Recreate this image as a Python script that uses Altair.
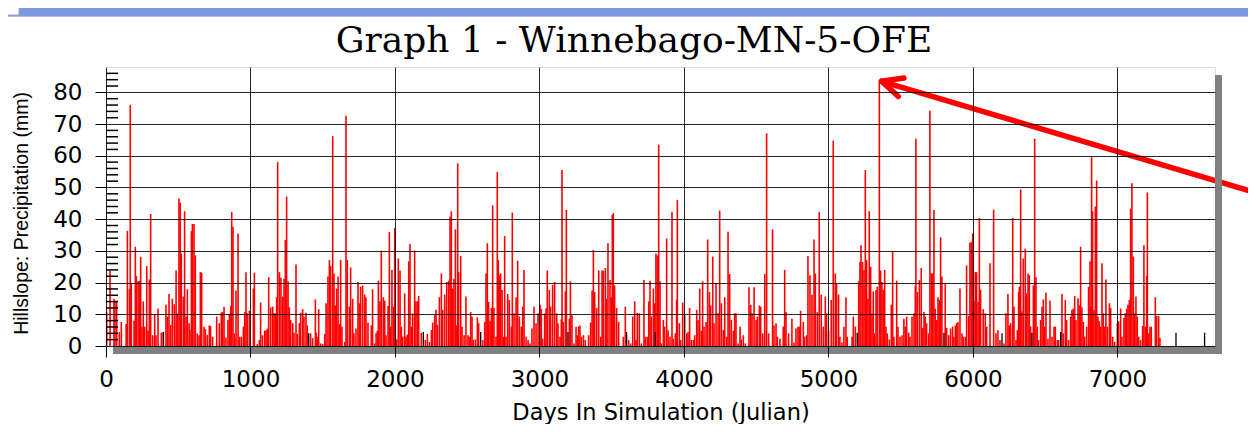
import altair as alt
import pandas as pd

# ---- data: (day, precipitation mm) ----
SEG_A = [(5,10.8),(28,23.8),(55,14.9),(62,14.3),(74,14.3),(92,4.4),(106,7.6),(139,6.9),(148,36.3),(162,17.9),
         (168,76.0),(175,19.6),(194,8.0),(203,31.3),(210,22.1),(222,20.4),(231,20.6),(240,28.1),(249,6.1),(258,14.1),
         (268,6.1),(282,25.2),(291,4.8),(300,21.0),(309,41.6),(323,3.4),(337,10.1),(346,3.4),(360,11.8),(383,4.2),
         (397,4.4),(415,13.0),(425,9.3),(436,16.4),(448,6.6),(459,14.9),(473,13.2),(485,23.8),(494,10.3),(505,46.5),
         (514,45.2),(521,29.2),(535,15.6),(544,42.5),(554,9.3),(563,17.9),(575,7.2),(581,5.0),(591,36.2),(598,38.5),
         (609,38.5),(618,28.6),(632,4.0),(644,3.4),(653,23.3),(662,23.1),(678,6.1),(688,5.3),(701,3.5),(715,6.5),
         (724,6.3),(738,2.9),(766,9.3),(784,7.2),(798,10.6),(807,10.7),(817,12.4),(830,2.7),(844,8.2),(854,10.1),
         (863,12.6),(870,42.3),(879,37.6),(890,4.0),(900,17.5),(914,35.5),(925,2.9),(937,2.9),(951,6.1),(960,10.7),
         (969,23.3),(978,10.3),(992,11.1),(1020,18.1),(1027,23.1),(1047,0.6),(1061,1.9),(1070,13.7),(1082,3.4),(1098,4.8),
         (1107,5.0),(1117,5.5),(1126,21.7),(1140,12.2),(1154,12.4),(1163,10.3),(1172,10.3),(1181,15.4),(1188,58.0),(1200,23.3),
         (1211,21.5),(1223,15.6),(1232,21.2),(1241,33.4),(1250,47.1),(1260,20.4),(1269,12.2),(1278,8.2),(1292,7.2),(1301,4.2),
         (1315,25.7),(1324,3.8),(1338,7.2),(1347,10.5),(1361,11.6),(1370,9.3),(1384,10.5),(1393,6.5),(1416,4.0),(1430,2.5),
         (1449,14.7),(1454,4.2),(1463,2.9),(1472,11.6),(1486,0.8),(1500,0.6),(1514,3.8),(1523,13.5)]

SEG_B = [(1536,21.9),(1546,27.1),(1555,25.2),(1569,66.2),(1578,22.9),(1587,12.8),(1596,18.1),(1606,21.9),(1615,6.9),(1624,27.1),
         (1633,6.1),(1652,1.3),(1661,72.6),(1670,27.1),(1684,12.4),(1693,24.8),(1707,14.9),(1716,4.0),(1730,5.5),(1744,20.2),
         (1753,13.5),(1762,18.7),(1776,19.1),(1790,16.2),(1799,15.4),(1813,7.4),(1836,6.5),(1845,17.9),(1859,0.8),(1869,4.0),
         (1878,4.8),(1885,20.6),(1896,14.1),(1905,30.1),(1919,15.4),(1929,14.3),(1938,3.4),(1952,12.6),(1961,36.0),(1970,6.1),
         (1979,24.0),(1989,12.4),(1998,37.2),(2012,2.1),(2023,27.6),(2035,23.8),(2044,6.1),(2053,2.9),(2067,16.6),(2076,2.9),
         (2085,3.6),(2095,26.7),(2104,32.2),(2113,6.1),(2122,10.3),(2136,30.1),(2145,14.1),(2155,14.1),(2164,15.8),(2182,4.2),
         (2210,1.9),(2224,3.8),(2238,1.3),(2252,5.0),(2261,7.4),(2275,9.7),(2284,11.4),(2293,6.7),(2307,15.4),(2321,22.9),
         (2330,11.4),(2344,16.2),(2358,20.2),(2372,20.6),(2381,40.8),(2390,42.5),(2399,18.1),(2408,21.2),(2418,36.8),(2427,6.5),
         (2434,57.6),(2441,23.3),(2455,28.4),(2464,6.1),(2478,3.4),(2491,15.6),(2505,3.4),(2515,2.9),(2524,10.7),(2533,9.3),
         (2542,1.9),(2556,2.1),(2570,9.0),(2579,7.2),(2607,1.9),(2621,7.6),(2630,22.9),(2639,32.4),(2648,13.9),(2658,7.8),
         (2667,12.0),(2676,44.4),(2685,12.0),(2699,2.9),(2708,54.9),(2715,27.1),(2722,22.3),(2731,22.9),(2741,17.7),(2750,2.9),
         (2759,34.7),(2768,2.9),(2780,16.4),(2791,14.5),(2805,6.1),(2812,42.1),(2824,10.3),(2838,15.4),(2849,26.9),(2861,9.3),
         (2874,6.1),(2884,12.4),(2893,24.0),(2907,2.9),(2921,1.9),(2934,0.8),(2948,5.5),(2962,12.4),(2976,7.2),(2990,10.3),
         (3004,13.0),(3013,11.6),(3022,2.3),(3036,10.3),(3045,11.8),(3054,23.8),(3068,17.7)]

SEG_C = [(3077,12.4),(3091,19.3),(3105,20.2),(3119,10.3),(3128,7.2),(3142,2.9),(3151,8.4),(3156,55.5),(3165,7.6),(3179,17.2),
         (3186,42.9),(3207,8.6),(3214,20.4),(3225,9.7),(3239,0.8),(3253,6.1),(3262,3.4),(3271,6.1),(3280,6.5),(3290,2.9),
         (3304,3.4),(3317,1.9),(3340,3.4),(3354,7.4),(3364,17.5),(3373,30.3),(3382,17.0),(3396,12.0),(3410,23.8),(3424,2.9),
         (3433,23.8),(3442,23.8),(3456,24.6),(3465,14.9),(3474,32.4),(3488,20.8),(3497,15.4),(3504,41.4),(3511,41.9),(3520,19.1),
         (3534,12.0),(3548,7.6),(3580,2.9),(3594,12.4),(3617,1.9),(3631,0.8),(3645,9.3),(3659,14.1),(3668,1.9),(3677,10.5),
         (3691,10.3),(3705,0.8),(3723,20.8),(3733,2.9),(3746,2.9),(3756,14.1),(3765,20.6),(3774,9.3),(3788,18.1),(3797,13.5),
         (3806,29.2),(3816,28.6),(3825,63.5),(3834,20.4),(3843,0.8),(3857,8.2),(3866,6.1),(3880,33.9),(3890,5.0),(3903,2.9),
         (3917,42.3),(3926,2.3),(3940,4.0),(3949,14.7),(3954,46.1),(3968,7.2),(3977,1.9),(3991,13.7),(4005,9.7),(4019,4.0),
         (4028,4.4),(4039,12.0),(4051,1.9),(4065,1.9),(4074,3.4),(4088,11.4),(4097,8.2),(4109,18.1),(4120,4.8),(4129,20.4),
         (4139,6.1),(4153,7.6),(4164,33.6),(4176,17.0),(4185,12.8),(4199,28.2),(4208,7.2),(4222,19.8),(4236,10.3),(4247,42.7),
         (4259,13.5),(4272,5.0),(4282,15.4),(4296,2.9),(4305,36.0),(4316,22.7),(4328,8.2),(4342,4.8),(4351,10.3),(4360,10.3),
         (4374,0.8),(4388,6.1),(4397,2.1),(4411,3.4),(4425,0.8),(4450,18.5),(4462,13.0),(4471,10.3),(4485,18.5),(4499,8.2),
         (4508,9.3),(4522,12.8),(4531,12.4),(4545,4.0),(4559,22.7),(4572,67.1),(4586,4.0)]

SEG_D = [(4613,36.8),(4623,6.5),(4637,7.2),(4646,2.9),(4664,2.3),(4687,6.1),(4697,24.0),(4706,10.7),(4724,4.0),(4747,8.6),
         (4761,1.1),(4775,5.5),(4789,6.1),(4798,6.1),(4807,11.1),(4826,7.6),(4835,2.9),(4849,3.4),(4858,28.4),(4872,22.3),
         (4886,16.2),(4900,33.6),(4909,22.9),(4923,10.7),(4936,42.3),(4950,16.2),(4964,6.1),(4978,15.6),(4987,10.3),(5001,4.8),
         (5019,14.5),(5033,64.8),(5047,22.9),(5056,19.6),(5070,16.2),(5079,2.9),(5093,1.1),(5107,6.1),(5121,15.4),(5130,2.9),
         (5163,2.9),(5172,9.3),(5186,6.1),(5209,20.4),(5218,26.5),(5225,31.8),(5236,26.5),(5246,24.0),(5255,55.5),(5264,27.1),
         (5273,14.9),(5282,42.5),(5292,25.0),(5301,10.3),(5310,17.2),(5319,4.0),(5329,17.7),(5338,18.7),(5352,83.9),(5361,23.8),
         (5370,20.2),(5379,17.7),(5389,24.0),(5398,6.1),(5407,4.0),(5421,2.1),(5435,13.0),(5444,29.9),(5453,2.9),(5472,20.6),
         (5481,6.1),(5495,2.9),(5509,3.4),(5522,8.6),(5532,6.1),(5541,9.3),(5555,4.2),(5564,2.9),(5578,9.3),(5592,10.3),
         (5601,18.9),(5605,65.4),(5615,17.0),(5629,20.8),(5642,24.6),(5652,5.7),(5661,10.7),(5670,9.3),(5679,7.2),(5693,4.0),
         (5702,74.2),(5712,22.9),(5721,22.9),(5730,42.9),(5739,11.8),(5749,8.2),(5758,15.4),(5767,14.5),(5776,34.3),(5785,21.9),
         (5808,19.6),(5818,5.7),(5832,3.4),(5845,5.5),(5859,6.1),(5868,2.9),(5878,6.5),(5887,7.2),(5896,7.6),(5910,18.1),
         (5924,4.0),(5933,2.9),(5947,2.9),(5956,25.4),(5970,9.5),(5979,32.6),(5988,32.8),(5998,35.5),(6007,14.1),(6016,23.3),
         (6025,23.3),(6035,13.9),(6044,40.4),(6053,17.7),(6071,11.6),(6085,10.3),(6095,6.1),(6118,26.1)]

SEG_E = [(6143,43.0),(6159,4.0),(6173,5.0),(6187,1.9),(6215,0.8),(6228,10.3),(6242,16.4),(6251,6.5),(6261,7.2),(6275,40.4),
         (6284,12.4),(6298,1.9),(6307,5.0),(6316,17.0),(6321,18.7),(6330,49.4),(6339,10.9),(6348,27.6),(6362,30.7),(6371,16.6),
         (6381,22.9),(6390,22.3),(6399,6.1),(6418,19.1),(6427,65.4),(6436,21.7),(6445,6.1),(6454,1.9),(6468,8.2),(6478,12.4),
         (6487,14.7),(6496,6.1),(6505,16.8),(6519,2.3),(6533,14.3),(6547,2.9),(6561,6.1),(6570,6.1),(6584,1.9),(6593,1.9),
         (6616,16.4),(6625,4.0),(6639,14.5),(6648,8.2),(6662,1.9),(6676,9.3),(6685,11.4),(6694,11.8),(6704,15.8),(6713,8.2),
         (6727,15.1),(6736,12.8),(6745,31.3),(6754,12.2),(6764,7.6),(6773,2.9),(6787,6.1),(6800,18.7),(6810,26.7),(6814,12.4),
         (6821,59.7),(6828,42.5),(6837,11.4),(6847,44.0),(6856,52.2),(6865,9.3),(6874,7.8),(6884,6.1),(6893,26.1),(6902,10.3),
         (6911,6.1),(6920,21.0),(6930,6.1),(6944,13.5),(6953,12.0),(6967,2.9),(6980,1.3),(6999,7.2),(7008,7.8),(7022,11.8),
         (7031,2.9),(7045,8.8),(7054,10.3),(7064,11.8),(7073,13.0),(7082,14.5),(7091,43.3),(7100,51.3),(7110,28.2),(7119,10.3),
         (7128,15.6),(7137,9.3),(7147,2.9),(7160,1.9),(7174,6.3),(7183,31.8),(7193,6.1),(7202,22.1),(7207,48.4),(7216,4.0),
         (7225,6.1),(7234,6.1),(7262,15.4),(7271,9.5),(7285,9.5),(7294,2.5)]

# second (black) series visible in gaps
BLACK = [(397,4.4),(1403,4.0),(2196,4.4),(2593,4.4),(3197,4.4),(3603,4.4),(3802,4.4),(5199,4.2),
         (5799,4.2),(6201,4.0),(6408,4.2),(6607,4.4),(7405,4.2),(7603,4.2)]

X_TICKS = [0, 1000, 2000, 3000, 4000, 5000, 6000, 7000]
Y_TICKS = [0, 10, 20, 30, 40, 50, 60, 70, 80]
Y_MINOR = [2, 4, 6, 8, 12, 14, 16, 18, 22, 24, 26, 28, 32, 34, 36, 38, 42, 44, 46, 48,
           52, 54, 56, 58, 62, 64, 66, 68, 72, 74, 76, 78, 82, 84, 86]

# annotation arrow (data coordinates): segments start -> end
ARROW_X0 = [5368, 5368, 5368]
ARROW_Y0 = [83.5, 83.5, 83.5]
ARROW_X1 = [8100, 5522, 5483]
ARROW_Y1 = [46.4, 84.5, 78.7]

TITLE = "Graph 1 - Winnebago-MN-5-OFE"
X_TITLE = "Days In Simulation (Julian)"
Y_TITLE = "Hillslope: Precipitation (mm)"

red_df = pd.DataFrame(SEG_A + SEG_B + SEG_C + SEG_D + SEG_E, columns=["day", "mm"])
black_df = pd.DataFrame(BLACK, columns=["day", "mm"])
minor_df = pd.DataFrame({"day": [0] * len(Y_MINOR), "mm": Y_MINOR})
arrow_df = pd.DataFrame({"day": ARROW_X0, "mm": ARROW_Y0, "day2": ARROW_X1, "mm2": ARROW_Y1})
one = pd.DataFrame({"a": [0]})

W, H = 1109, 279
xs = alt.Scale(domain=[0, 7675], nice=False, zero=False)
ys = alt.Scale(domain=[0, 88], nice=False)

x_axis = alt.Axis(values=X_TICKS, format="d", grid=True, gridColor="black", gridWidth=1,
                  gridOpacity=0.85, tickColor="black", tickSize=11, tickWidth=1, domain=False,
                  labelFont="DejaVu Sans", labelFontSize=23, labelColor="black", labelPadding=11,
                  labelFlush=False, labelOverlap=False,
                  title=X_TITLE, titleFont="DejaVu Sans", titleFontSize=22.5, titleFontWeight="normal",
                  titleColor="black", titlePadding=10, zindex=1)
y_axis = alt.Axis(values=Y_TICKS, grid=True, gridColor="black", gridWidth=1, gridOpacity=0.85,
                  tickColor="black", tickSize=11, tickWidth=1, domain=False,
                  labelFont="DejaVu Sans", labelFontSize=23, labelColor="black", labelPadding=13,
                  labelFlush=False, labelOverlap=False,
                  title=Y_TITLE, titleFont="Liberation Sans", titleFontSize=19.5, titleFontWeight="normal",
                  titleColor="black", titlePadding=21, titleY=146, zindex=1)

X = alt.X("day:Q", scale=xs, axis=x_axis)
Y = alt.Y("mm:Q", scale=ys, axis=y_axis)

red_bars = alt.Chart(red_df).mark_rule(color="#ff0000", strokeWidth=1.6).encode(
    x=X, y=Y, y2=alt.datum(0))

black_bars = alt.Chart(black_df).mark_rule(color="black", strokeWidth=1.3).encode(
    x=X, y=Y, y2=alt.datum(0))

minor = alt.Chart(minor_df).mark_rule(color="black", strokeWidth=1.5).encode(
    y=Y, x=alt.value(0), x2=alt.value(12))

arrow = alt.Chart(arrow_df).mark_rule(color="#ff0000", strokeWidth=5.5, strokeCap="round", clip=False).encode(
    x=X, x2="day2:Q", y=Y, y2="mm2:Q")

shadow_b = alt.Chart(one).mark_rect(color="#808080").encode(
    x=alt.value(7), x2=alt.value(W + 7), y=alt.value(H), y2=alt.value(H + 8))
shadow_r = alt.Chart(one).mark_rect(color="#808080").encode(
    x=alt.value(W), x2=alt.value(W + 7), y=alt.value(8), y2=alt.value(H + 8))
titlebar = alt.Chart(one).mark_rect(color="#7b9ae0").encode(
    x=alt.value(-110), x2=alt.value(1200), y=alt.value(-70), y2=alt.value(-51))
titleline = alt.Chart(one).mark_rect(color="#a9c0f0").encode(
    x=alt.value(-110), x2=alt.value(1200), y=alt.value(-51), y2=alt.value(-50))
icon = alt.Chart(one).mark_rect(color="white", stroke="#9aa6c8", strokeWidth=1).encode(
    x=alt.value(-104), x2=alt.value(-87), y=alt.value(-70), y2=alt.value(-52))
title = alt.Chart(one).mark_text(text=TITLE, font="DejaVu Serif", fontSize=36, color="black",
                                 align="center", baseline="alphabetic").encode(
    x=alt.value(528), y=alt.value(-15))

chart = alt.layer(red_bars, black_bars, minor, arrow, shadow_b, shadow_r,
                  titlebar, titleline, icon, title).properties(
    width=W, height=H,
    padding={"left": 98, "top": 59, "right": 33, "bottom": 78},
    autosize=alt.AutoSizeParams(type="none"),
).configure_view(stroke="#666666", strokeWidth=2, fill="white").configure(background="white")

chart.save("out.html", embed_options={"renderer": "svg", "actions": False})
